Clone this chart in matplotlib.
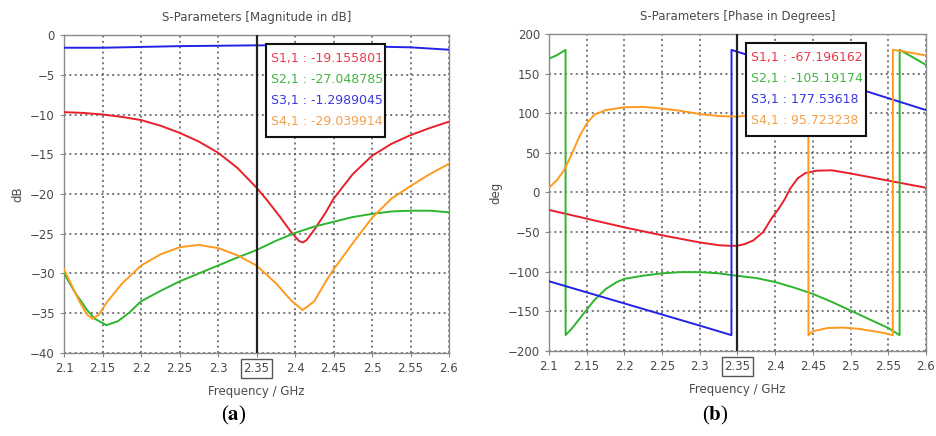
import numpy as np
import matplotlib
matplotlib.use('Agg')
import matplotlib.pyplot as plt
from matplotlib.patches import Rectangle

plt.rcParams['font.family'] = ['DejaVu Sans']
plt.rcParams['mathtext.fontset'] = 'stix'

## --- datos: magnitud en dB ---
f_s11 = [2.1, 2.125, 2.15, 2.175, 2.2, 2.225, 2.25, 2.275, 2.3, 2.325, 2.35, 2.363,
         2.38, 2.395, 2.405, 2.41, 2.415, 2.425, 2.44, 2.45, 2.475, 2.5, 2.525, 2.55, 2.575, 2.6]
db_s11 = [-9.7, -9.8, -10.0, -10.3, -10.7, -11.4, -12.3, -13.4, -14.8, -16.7, -19.2, -20.7,
          -22.8, -24.8, -25.9, -26.1, -25.8, -24.5, -22.3, -20.6, -17.5, -15.2, -13.7, -12.6, -11.7, -10.9]

f_s21 = [2.1, 2.115, 2.13, 2.14, 2.155, 2.17, 2.185, 2.2, 2.225, 2.25, 2.275, 2.3, 2.325, 2.35,
         2.375, 2.4, 2.425, 2.45, 2.475, 2.5, 2.525, 2.55, 2.575, 2.6]
db_s21 = [-30.0, -32.5, -34.6, -35.7, -36.5, -36.0, -34.9, -33.5, -32.2, -31.0, -30.0, -29.0, -28.0, -27.05,
          -25.9, -24.9, -24.1, -23.5, -22.9, -22.5, -22.2, -22.1, -22.1, -22.3]

f_s31 = [2.1, 2.15, 2.2, 2.25, 2.3, 2.35, 2.4, 2.45, 2.5, 2.55, 2.6]
db_s31 = [-1.6, -1.6, -1.5, -1.4, -1.35, -1.3, -1.3, -1.35, -1.45, -1.55, -1.85]

f_s41 = [2.1, 2.11, 2.12, 2.13, 2.137, 2.145, 2.155, 2.175, 2.2, 2.225, 2.25, 2.275, 2.3, 2.325,
         2.35, 2.375, 2.395, 2.41, 2.425, 2.44, 2.45, 2.475, 2.5, 2.525, 2.55, 2.575, 2.6]
db_s41 = [-29.5, -31.5, -33.5, -35.2, -35.7, -35.2, -33.7, -31.3, -29.0, -27.6, -26.7, -26.4, -26.8, -27.7,
          -29.0, -31.2, -33.4, -34.6, -33.5, -31.0, -29.5, -26.2, -23.0, -20.6, -19.0, -17.5, -16.2]

## --- datos: fase en grados ---
fp_s11 = [2.1, 2.15, 2.2, 2.25, 2.3, 2.325, 2.34, 2.35, 2.36, 2.371, 2.384, 2.395, 2.405, 2.413,
          2.42, 2.43, 2.44, 2.455, 2.475, 2.5, 2.55, 2.6]
ph_s11 = [-22, -33, -44, -54, -63, -66.5, -67.3, -67.2, -65, -60.5, -50, -33, -20, -8,
          5, 18, 24.5, 27.5, 28, 24, 15, 6]

fp_s21 = [2.1, 2.11, 2.122, 2.1221, 2.13, 2.14, 2.15, 2.16, 2.175, 2.19, 2.2, 2.225, 2.25, 2.275,
          2.3, 2.325, 2.35, 2.375, 2.4, 2.425, 2.45, 2.475, 2.5, 2.525, 2.55, 2.565, 2.5651, 2.58, 2.6]
ph_s21 = [169, 173, 180, -180, -172, -160, -148, -136, -122, -113, -109, -105, -102, -100.5,
          -100.5, -102, -105.2, -108, -113, -120, -128, -138, -149, -160, -171, -180, 180, 172, 161]

fp_s31 = [2.1, 2.2, 2.3, 2.342, 2.3421, 2.35, 2.45, 2.55, 2.6]
ph_s31 = [-112, -140, -168, -180, 180, 177.5, 149, 119, 104]

fp_s41 = [2.1, 2.11, 2.12, 2.13, 2.14, 2.15, 2.16, 2.175, 2.2, 2.225, 2.25, 2.275, 2.3, 2.325,
          2.35, 2.36, 2.38, 2.4, 2.42, 2.435, 2.444, 2.4441, 2.45, 2.47, 2.49, 2.51, 2.53, 2.545,
          2.556, 2.5561, 2.57, 2.6]
ph_s41 = [6, 15, 28, 48, 70, 87, 98, 104, 107.5, 108, 106, 103, 99, 96.5,
          95.7, 97, 104, 118, 140, 162, 180, -180, -175, -171, -170.5, -172, -175, -177.5,
          -180, 180, 178, 173]

xticks = [2.1, 2.15, 2.2, 2.25, 2.3, 2.35, 2.4, 2.45, 2.5, 2.55, 2.6]
xtick_labels = ['2.1', '2.15', '2.2', '2.25', '2.3', '2.35', '2.4', '2.45', '2.5', '2.55', '2.6']
cursor = 2.35

names = ['S1,1', 'S2,1', 'S3,1', 'S4,1']
vals_db = ['-19.155801', '-27.048785', '-1.2989045', '-29.039914']
vals_ph = ['-67.196162', '-105.19174', '177.53618', '95.723238']
colores = ['#e8202a', '#2db52d', '#2323e6', '#ff9a1f']
txt_col = ['#ea3b4b', '#43b543', '#3a3ae0', '#f5a04a']


def estilo(ax, titulo, ylab, yticks):
    ax.set_xlim(2.1, 2.6)
    ax.set_xticks(xticks)
    ax.set_xticklabels(xtick_labels)
    ax.set_yticks(yticks)
    ax.set_ylim(yticks[0], yticks[-1])
    ax.grid(True, linestyle=(0, (1.3, 2.2)), color='#555555', linewidth=1.1)
    for s in ax.spines.values():
        s.set_color('#8a8a8a')
        s.set_linewidth(1.0)
    ax.tick_params(labelsize=8.5, colors='#8a8a8a', labelcolor='#4a4a4a', length=3)
    ax.set_title(titulo, fontsize=8.5, color='#4a4a4a', pad=10)
    ax.set_xlabel('Frequency / GHz', fontsize=8.5, color='#4a4a4a', labelpad=7)
    ax.set_ylabel(ylab, fontsize=8.5, color='#4a4a4a')
    ax.axvline(cursor, color='#222222', lw=1.6, zorder=4)
    lab = ax.get_xticklabels()[5]
    lab.set_bbox(dict(boxstyle='square,pad=0.25', fc='white', ec='#555555', lw=1.0))


def caja(ax, valores, x0, x1, y0, y1):
    ax.add_patch(Rectangle((x0, y0), x1 - x0, y1 - y0, transform=ax.transAxes,
                           fc='white', ec='#111111', lw=1.5, zorder=5))
    dy = (y1 - y0) / 4.45
    for i in range(4):
        ax.text(x0 + 0.012, y1 - dy * (i + 0.72), names[i] + ' : ' + valores[i],
                transform=ax.transAxes, fontsize=9, color=txt_col[i],
                va='center', ha='left', zorder=6)


fig = plt.figure(figsize=(9.36, 4.36), dpi=100)
ax1 = fig.add_axes([0.0684, 0.1904, 0.4113, 0.7293])
ax2 = fig.add_axes([0.5865, 0.195, 0.4028, 0.727])

## (a) magnitud
ax1.plot(f_s11, db_s11, color=colores[0], lw=1.4, zorder=3)
ax1.plot(f_s21, db_s21, color=colores[1], lw=1.4, zorder=3)
ax1.plot(f_s31, db_s31, color=colores[2], lw=1.4, zorder=3)
ax1.plot(f_s41, db_s41, color=colores[3], lw=1.4, zorder=3)
estilo(ax1, 'S-Parameters [Magnitude in dB]', 'dB', [-40, -35, -30, -25, -20, -15, -10, -5, 0])
caja(ax1, vals_db, 0.525, 0.834, 0.679, 0.972)

## (b) fase
ax2.plot(fp_s11, ph_s11, color=colores[0], lw=1.4, zorder=3)
ax2.plot(fp_s21, ph_s21, color=colores[1], lw=1.4, zorder=3)
ax2.plot(fp_s31, ph_s31, color=colores[2], lw=1.4, zorder=3)
ax2.plot(fp_s41, ph_s41, color=colores[3], lw=1.4, zorder=3)
estilo(ax2, 'S-Parameters [Phase in Degrees]', 'deg', [-200, -150, -100, -50, 0, 50, 100, 150, 200])
caja(ax2, vals_ph, 0.523, 0.841, 0.678, 0.972)

fig.text(234 / 936, 1 - 415 / 436, r'($\mathbf{a}$)', fontsize=15, family='Liberation Serif',
         ha='center', va='center')
fig.text(715 / 936, 1 - 415 / 436, r'($\mathbf{b}$)', fontsize=15, family='Liberation Serif',
         ha='center', va='center')

fig.savefig('out.png', dpi=100)
